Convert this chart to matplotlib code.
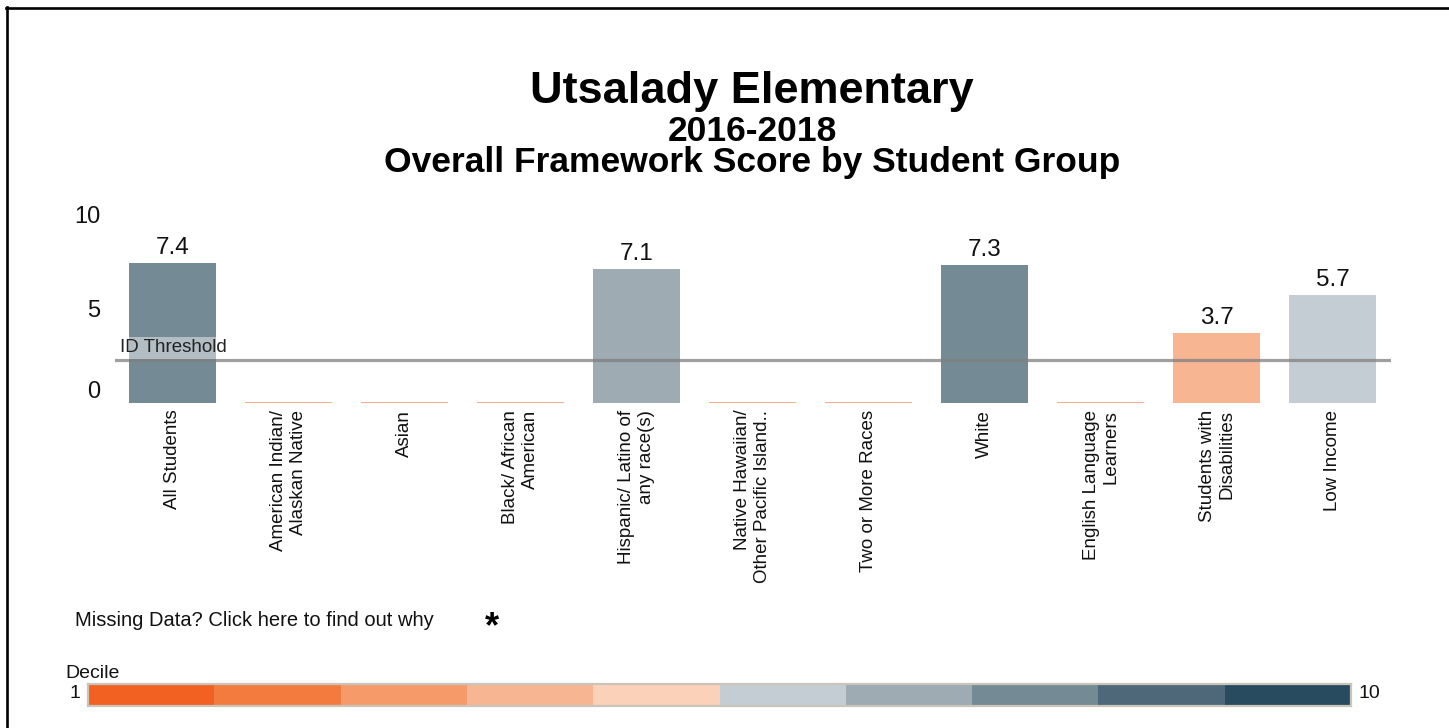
import numpy as np
import matplotlib
matplotlib.use('Agg')
import matplotlib.pyplot as plt
from matplotlib.lines import Line2D

plt.rcParams['font.family'] = ['Liberation Sans', 'DejaVu Sans']

# data
categories = ['All Students', 'American Indian/\nAlaskan Native', 'Asian',
              'Black/ African\nAmerican', 'Hispanic/ Latino of\nany race(s)',
              'Native Hawaiian/\nOther Pacific Island..', 'Two or More Races',
              'White', 'English Language\nLearners', 'Students with\nDisabilities',
              'Low Income']
scores = [7.4, np.nan, np.nan, np.nan, 7.1, np.nan, np.nan, 7.3, np.nan, 3.7, 5.7]
bar_deciles = [8, None, None, None, 7, None, None, 8, None, 4, 6]
threshold = 2.27
deciles = list(range(1, 11))
decile_colors = ['#f26122', '#f47b3e', '#f69a6a', '#f8b592', '#fbd1ba',
                 '#c5cdd4', '#9eabb3', '#748a95', '#4e6879', '#284b5f']
missing_color = '#f4a582'

W, H = 1449, 728
fig = plt.figure(figsize=(W / 100, H / 100), dpi=100)

# main bar axes
ax = fig.add_axes([114.5 / W, 1 - 402.7 / H, (1391 - 114.5) / W, (402.7 - 214.3) / H])
x = np.arange(len(categories))
for i, (s, d) in enumerate(zip(scores, bar_deciles)):
    if np.isnan(s):
        ax.hlines(0, i - 0.375, i + 0.375, color=missing_color, lw=1.3, zorder=2)
        continue
    ax.bar(i, s, width=0.75, color=decile_colors[d - 1], zorder=2)
    ax.annotate(f'{s:.1f}', (i, s), xytext=(0, 3), textcoords='offset points',
                ha='center', va='bottom', fontsize=17.5, color='#111111',
                annotation_clip=False)

ax.axhline(threshold, color='#7f7f7f', alpha=0.75, lw=2.3, zorder=3)
ax.text(-0.45, threshold + 0.4, 'ID Threshold', fontsize=13.5, color='#222222',
        ha='left', va='baseline', zorder=4,
        bbox=dict(facecolor='white', alpha=0.45, edgecolor='none', pad=2))

ax.set_xlim(-0.5, len(categories) - 0.5)
ax.set_ylim(0, 10)
ax.set_yticks([0, 5, 10])
ax.set_yticklabels(['0', '5', '10'], fontsize=17, color='#111111')
ax.get_yticklabels()[0].set_va('bottom')
ax.set_xticks(x)
ax.set_xticklabels(categories, rotation=90, fontsize=13.5, va='top', ha='center',
                   multialignment='right', color='#111111')
ax.tick_params(axis='both', length=0)
ax.tick_params(axis='x', pad=5)
ax.tick_params(axis='y', pad=10)
for sp in ax.spines.values():
    sp.set_visible(False)

# titles
fig.text(752 / W, 1 - 103 / H, 'Utsalady Elementary', ha='center', va='baseline',
         fontsize=32.5, fontweight='bold')
fig.text(752 / W, 1 - 141 / H, '2016-2018', ha='center', va='baseline',
         fontsize=25.5, fontweight='bold')
fig.text(752 / W, 1 - 172 / H, 'Overall Framework Score by Student Group',
         ha='center', va='baseline', fontsize=25.5, fontweight='bold')

# footnote
fig.text(75 / W, 1 - 621 / H, 'Missing Data? Click here to find out why',
         ha='left', va='center', fontsize=14.5, color='#111111')
fig.text(492 / W, 1 - 628 / H, '*', ha='center', va='center',
         fontsize=26, fontweight='bold')

# decile legend bar
fig.text(65 / W, 1 - 673 / H, 'Decile', ha='left', va='center', fontsize=14,
         color='#111111')
lax = fig.add_axes([88 / W, 1 - 706 / H, (1351 - 88) / W, 22 / H])
lax.barh(0, 1, left=np.array(deciles) - 1, height=1, color=decile_colors,
         align='center', linewidth=0)
lax.set_xlim(0, 10)
lax.set_ylim(-0.5, 0.5)
lax.set_xticks([])
lax.set_yticks([])
for sp in lax.spines.values():
    sp.set_color('#c9c5bb')
    sp.set_linewidth(1.6)
fig.text(80 / W, 1 - 694 / H, str(deciles[0]), ha='right', va='center',
         fontsize=14, color='#111111')
fig.text(1359 / W, 1 - 694 / H, str(deciles[-1]), ha='left', va='center',
         fontsize=14, color='#111111')

# page frame (top and left edges)
fig.add_artist(Line2D([7 / W, 7 / W], [0, 1 - 7 / H], color='black', lw=1.9,
                      transform=fig.transFigure))
fig.add_artist(Line2D([6 / W, 1448 / W], [1 - 7.5 / H, 1 - 7.5 / H], color='black',
                      lw=1.9, transform=fig.transFigure))

fig.savefig('out.png', dpi=100)
